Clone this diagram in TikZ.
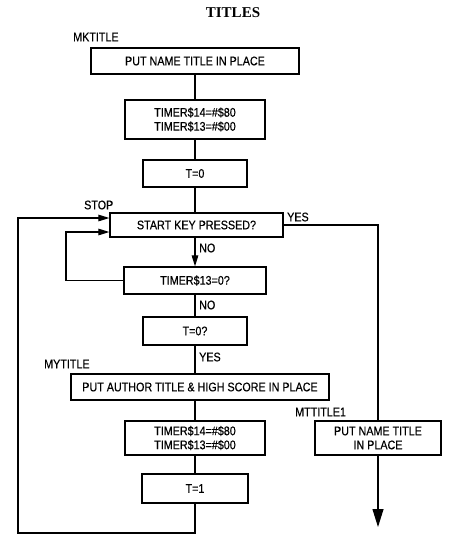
\documentclass[tikz,border=0pt]{standalone}
\usepackage{fontspec}
\setmainfont{Liberation Sans}[FakeStretch=0.86, FakeBold=0.4]
\newfontfamily\titlefont{Liberation Serif}
\usetikzlibrary{arrows.meta}

\tikzset{
  box/.style={draw, line width=1.2pt, inner sep=0pt, align=center,
    font=\fontsize{12.5}{14}\selectfont},
  tag/.style={anchor=west, inner sep=0pt, font=\fontsize{12.5}{14}\selectfont},
  wire/.style={line width=1.1pt},
  tip/.style={-{Triangle[length=11pt, width=6.5pt]}},
  bigtip/.style={-{Triangle[length=18pt, width=11pt]}}
}

\begin{document}
\begin{tikzpicture}[x=1pt, y=-1pt]
    \useasboundingbox (0, 0) rectangle (453, 546);
    % title
    \node[](title) at (233, 13){\titlefont\bfseries\fontsize{15}{17}\selectfont TITLES};
    % MKTITLE
    \node[tag](mk) at (73, 37){MKTITLE};
    \node[box, minimum width=208pt, minimum height=26pt](nameA) at (195, 61)
      {PUT NAME TITLE IN PLACE};
    \node[box, minimum width=140pt, minimum height=39pt](timerA) at (195, 119.5)
      {TIMER\$14=\#\$80\\TIMER\$13=\#\$00};
    \node[box, minimum width=104pt, minimum height=27pt](tzero) at (195, 173.5){T=0};
    % STOP
    \node[tag](stop) at (84, 205){STOP};
    \node[box, minimum width=173pt, minimum height=24pt](start) at (196.5, 225)
      {START KEY PRESSED?};
    \node[tag](yesA) at (287, 217){YES};
    \node[box, minimum width=142pt, minimum height=27pt](timeout) at (195, 280.5)
      {TIMER\$13=0?};
    \node[tag](noA) at (199, 248){NO};
    \node[tag](noB) at (199, 305){NO};
    \node[box, minimum width=104pt, minimum height=28pt](tcheck) at (195, 331){T=0?};
    \node[tag](yesB) at (199, 357){YES};
    % MYTITLE
    \node[tag](my) at (44, 364){MYTITLE};
    \node[box, minimum width=258pt, minimum height=26pt](author) at (200, 387)
      {PUT AUTHOR TITLE \& HIGH SCORE IN PLACE};
    \node[box, minimum width=140pt, minimum height=34pt](timerB) at (195, 438)
      {TIMER\$14=\#\$80\\TIMER\$13=\#\$00};
    \node[box, minimum width=106pt, minimum height=29pt](tone) at (195, 488.5){T=1};
    % MTTITLE1
    \node[tag](mt) at (295, 412){MTTITLE1};
    \node[box, minimum width=126pt, minimum height=34pt](nameB) at (378, 438)
      {PUT NAME TITLE\\IN PLACE};

    % bends
    \coordinate (loopbot) at (195, 533);
    \coordinate (loopcorner) at (18, 533);
    \coordinate (innerleft) at (66, 280.5);
    \coordinate (yescorner) at (378, 225);
    \coordinate (exit) at (378, 527);

    % main column
    \draw [wire] (nameA) -- (timerA);
    \draw [wire] (timerA) -- (tzero);
    \draw [wire] (tzero.south) -- (tzero.south |- start.north);
    \draw [wire, tip] (tzero.south |- start.south) -- (timeout.north);
    \draw [wire] (timeout) -- (tcheck);
    \draw [wire] (tcheck.south) -- (tcheck.south |- author.north);
    \draw [wire] (tcheck.south |- author.south) -- (timerB.north);
    \draw [wire] (timerB) -- (tone);
    % outer loop
    \draw [wire, tip] (tone.south) -- (loopbot) -- (loopcorner)
      -- ([yshift=7pt]loopcorner |- start.west) -- ([yshift=7pt]start.west);
    % inner loop
    \draw [wire, tip] (timeout.west) -- (innerleft)
      -- ([yshift=-7pt]innerleft |- start.west) -- ([yshift=-7pt]start.west);
    % yes branch
    \draw [wire] (start.east) -- (yescorner) -- (nameB.north);
    \draw [wire, bigtip] (nameB.south) -- (exit);
  \end{tikzpicture}
\end{document}
